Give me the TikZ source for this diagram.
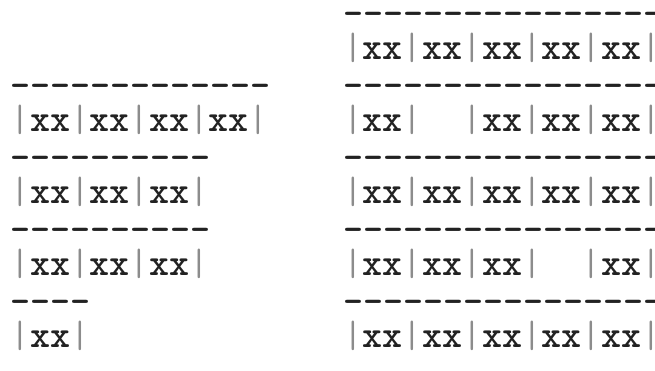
\documentclass[tikz,border=0pt]{standalone}
\usepackage{xcolor}
\usepackage{graphicx}
\usepackage{tikz}
\definecolor{inchiostro}{HTML}{222222}
\definecolor{barra}{HTML}{8C8C8C}
% barra verticale grigia
\newcommand{\vb}{\textcolor{barra}{\mdseries|}}
\tikzset{
  riga/.style={anchor=base west, inner sep=0pt, outer sep=0pt,
    font=\fontsize{27.1}{30}\selectfont\ttfamily\bfseries, text=inchiostro}
}

\begin{document}
\begin{tikzpicture}
        \def\h{1.8}   % passo tra le righe
        \def\yd{8.64} % linea di trattini, riga 0
        \def\yt{7.775} % riga di testo, riga 0
        \def\xs{0.2625}
        \def\xd{8.58}
        \clip (0,0) rectangle (16.375,9.275);
        % Blocco sinistro
        \node[riga] (sd1) at (\xs,\yd-1*\h) {-------------};
        \node[riga] (st1) at (\xs,\yt-1*\h) {\vb xx\vb xx\vb xx\vb xx\vb};
        \node[riga] (sd2) at (\xs,\yd-2*\h) {----------};
        \node[riga] (st2) at (\xs,\yt-2*\h) {\vb xx\vb xx\vb xx\vb};
        \node[riga] (sd3) at (\xs,\yd-3*\h) {----------};
        \node[riga] (st3) at (\xs,\yt-3*\h) {\vb xx\vb xx\vb xx\vb};
        \node[riga] (sd4) at (\xs,\yd-4*\h) {----};
        \node[riga] (st4) at (\xs,\yt-4*\h) {\vb xx\vb};
        % Blocco destro
        \node[riga] (dd0) at (\xd,\yd) {----------------};
        \node[riga] (dt0) at (\xd,\yt) {\vb xx\vb xx\vb xx\vb xx\vb xx\vb};
        \node[riga] (dd1) at (\xd,\yd-1*\h) {----------------};
        \node[riga] (dt1) at (\xd,\yt-1*\h) {\vb xx\vb\phantom{xx}\vb xx\vb xx\vb xx\vb};
        \node[riga] (dd2) at (\xd,\yd-2*\h) {----------------};
        \node[riga] (dt2) at (\xd,\yt-2*\h) {\vb xx\vb xx\vb xx\vb xx\vb xx\vb};
        \node[riga] (dd3) at (\xd,\yd-3*\h) {----------------};
        \node[riga] (dt3) at (\xd,\yt-3*\h) {\vb xx\vb xx\vb xx\vb\phantom{xx}\vb xx\vb};
        \node[riga] (dd4) at (\xd,\yd-4*\h) {----------------};
        \node[riga] (dt4) at (\xd,\yt-4*\h) {\vb xx\vb xx\vb xx\vb xx\vb xx\vb};
    \end{tikzpicture}
\end{document}
